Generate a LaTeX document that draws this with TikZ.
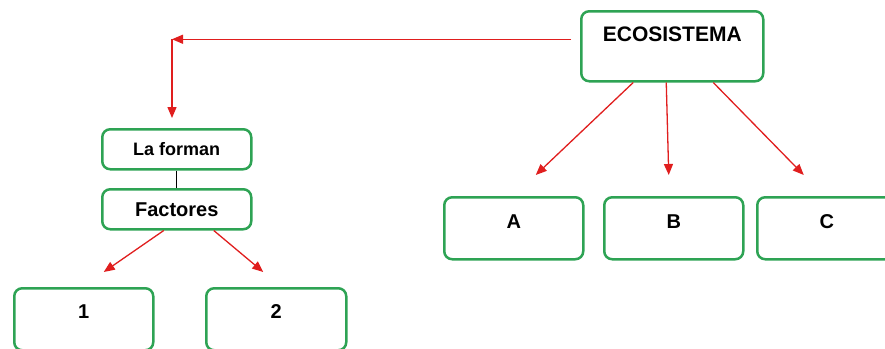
\documentclass[tikz,border=0pt]{standalone}
\usepackage{fontspec}
\setmainfont{Liberation Sans}
\usetikzlibrary{arrows.meta,positioning}
\definecolor{boxgreen}{RGB}{46,163,84}
\definecolor{arrowred}{RGB}{224,30,30}
\tikzset
{
	greenbox/.style = {rectangle, rounded corners=8pt, draw=boxgreen, line width=2.5pt, inner sep=0pt, anchor=north west, font=\bfseries\fontsize{20}{24}\selectfont},
	topbox/.style   = {greenbox, minimum width=182pt, text height=30pt, text depth=40pt},
	midbox/.style   = {greenbox, minimum width=149pt, minimum height=40pt},
	leafbox/.style  = {greenbox, minimum width=139pt, text height=31pt, text depth=31pt},
	link/.style     = {draw=arrowred, line width=1.3pt, -{Triangle[length=11pt,width=9pt]}},
	joiner/.style   = {draw=black, line width=0.8pt}
}

\begin{document}
\begin{tikzpicture}[x=1pt, y=-1pt]
\useasboundingbox (0,0) rectangle (885,348);
\clip (0,0) rectangle (885,348);
% main node
\node[topbox] (eco) at (580,10) {\fontsize{21}{25}\selectfont ECOSISTEMA};
% left branch
\node[midbox] (forman) at (101,128) {\fontsize{18}{22}\selectfont La forman};
\node[midbox] (factores) at (101,188) {Factores};
\node[leafbox, text height=30pt, text depth=32pt] (one) at (13,287) {1};
\node[leafbox, minimum width=140pt, text height=30pt, text depth=32pt] (two) at (205,287) {2};
% right branch
\node[leafbox] (a) at (443,196) {A};
\node[leafbox] (b) at (603,196) {B};
\node[leafbox] (c) at (756,196) {C};
\coordinate (corner) at (172,39.25);

\draw[link, shorten <=9pt] ([yshift=7pt]eco.west) -- (corner);
\draw[link, shorten >=10pt] (corner) -- (corner |- forman.north);
\draw[joiner] (forman.south) -- (factores.north);
\draw[link] ([xshift=-13pt]factores.south) -- ([xshift=20pt, yshift=15pt]one.north);
\draw[link] ([xshift=37pt]factores.south) -- ([xshift=-13pt, yshift=15pt]two.north);
\draw[link] ([xshift=-39pt]eco.south) -- ([xshift=22pt, yshift=21pt]a.north);
\draw[link] ([xshift=-6pt]eco.south) -- ([xshift=-5pt, yshift=21pt]b.north);
\draw[link] ([xshift=41pt]eco.south) -- ([xshift=-23pt, yshift=21pt]c.north);
\end{tikzpicture}
\end{document}
